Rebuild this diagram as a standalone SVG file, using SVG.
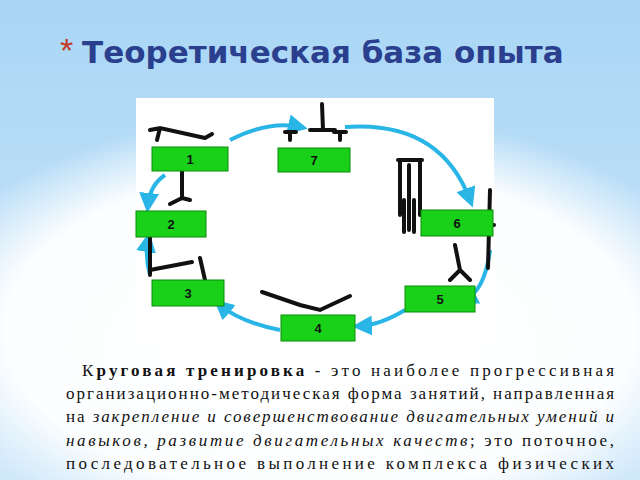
<svg xmlns="http://www.w3.org/2000/svg" width="640" height="480" viewBox="0 0 640 480">
<defs>
<linearGradient id="bg" x1="0" y1="0" x2="0" y2="1"><stop offset="0" stop-color="#a9d6f5"/><stop offset="1" stop-color="#cfe8fa"/></linearGradient>
<radialGradient id="glow" cx="0.5" cy="0.5" r="0.5"><stop offset="0" stop-color="#ffffff"/><stop offset="0.75" stop-color="#ffffff" stop-opacity="0.95"/><stop offset="1" stop-color="#ffffff" stop-opacity="0"/></radialGradient>
<marker id="ah" viewBox="0 0 10 10" refX="6" refY="5" markerWidth="5" markerHeight="5" orient="auto"><path d="M0,0L10,5L0,10z" fill="#29b6e6"/></marker>
</defs>
<style>
.g{fill:#19d119;stroke:#0a8a0a;stroke-width:1}
.n{font-family:"Liberation Sans",sans-serif;font-weight:bold;font-size:13px;fill:#111;text-anchor:middle}
.c{fill:none;stroke:#29b6e6;stroke-width:4;marker-end:url(#ah)}
.f{stroke:#111;stroke-width:4;stroke-linecap:round;fill:none}
.p{font-family:"Liberation Serif",serif;font-size:17px;fill:#111}
</style>
<rect width="640" height="480" fill="url(#bg)"/>
<ellipse cx="320" cy="330" rx="420" ry="220" fill="url(#glow)"/>
<text x="60" y="62" font-family="Liberation Sans,sans-serif" font-size="34" fill="#c0392b">*</text>
<text x="82" y="63" font-family="DejaVu Sans,sans-serif" font-weight="bold" font-size="31" fill="#2b3f8f">Теоретическая база опыта</text>
<rect x="136" y="98" width="358" height="243" fill="#fff"/>
<g id="connectors">
<path class="c" d="M230,140 Q270,120 300,127"/>
<path class="c" d="M345,127 Q440,120 470,200"/>
<path class="c" d="M490,250 Q485,290 465,300"/>
<path class="c" d="M405,310 Q380,325 360,326"/>
<path class="c" d="M280,330 Q240,322 220,305"/>
<path class="c" d="M150,275 Q145,258 148,240"/>
<path class="c" d="M165,175 Q150,185 148,205"/>
</g>
<g id="figures">
<path class="f" d="M150,130 L160,128 L205,138 M160,128 L157,140 M205,138 L212,134"/>
<path class="f" d="M322,104 L323,130 M310,130 L335,130 M290,132 L290,140 M340,132 L340,140 M285,132 L296,132 M334,132 L346,132"/>
<path class="f" d="M182,170 L182,198 L170,204 M182,198 L190,200"/>
<path class="f" d="M400,160 L400,215 M420,160 L420,215 M398,160 L422,160 M409,165 L409,230 M404,200 L404,232 M414,200 L414,232"/>
<path class="f" d="M490,190 L488,268 M484,225 L494,225"/>
<path class="f" d="M150,230 L150,275 M150,270 L192,262 M200,258 L205,280"/>
<path class="f" d="M455,245 L460,270 L450,280 M460,270 L470,280"/>
<path class="f" d="M262,292 L300,305 L320,310 L350,296"/>
</g>
<g id="n1"><rect class="g" x="152" y="147" width="76" height="24"/><text class="n" x="190" y="164">1</text></g>
<g id="n7"><rect class="g" x="278" y="148" width="72" height="24"/><text class="n" x="314" y="165">7</text></g>
<g id="n2"><rect class="g" x="136" y="211" width="70" height="26"/><text class="n" x="171" y="229">2</text></g>
<g id="n6"><rect class="g" x="421" y="210" width="72" height="26"/><text class="n" x="457" y="228">6</text></g>
<g id="n3"><rect class="g" x="152" y="280" width="72" height="26"/><text class="n" x="188" y="298">3</text></g>
<g id="n5"><rect class="g" x="405" y="286" width="70" height="26"/><text class="n" x="440" y="304">5</text></g>
<g id="n4"><rect class="g" x="281" y="315" width="74" height="26"/><text class="n" x="318" y="333">4</text></g>
<text class="p" x="82" y="376" textLength="532">К<tspan font-weight="bold">руговая тренировка</tspan> - это наиболее прогрессивная</text>
<text class="p" x="66" y="399" textLength="548">организационно-методическая форма занятий, направленная</text>
<text class="p" x="66" y="422" textLength="548">на <tspan font-style="italic">закрепление и совершенствование двигательных умений и</tspan></text>
<text class="p" x="66" y="446" textLength="548"><tspan font-style="italic">навыков, развитие двигательных качеств</tspan>; это поточное,</text>
<text class="p" x="66" y="469" textLength="548">последовательное выполнение комплекса физических</text>
</svg>
